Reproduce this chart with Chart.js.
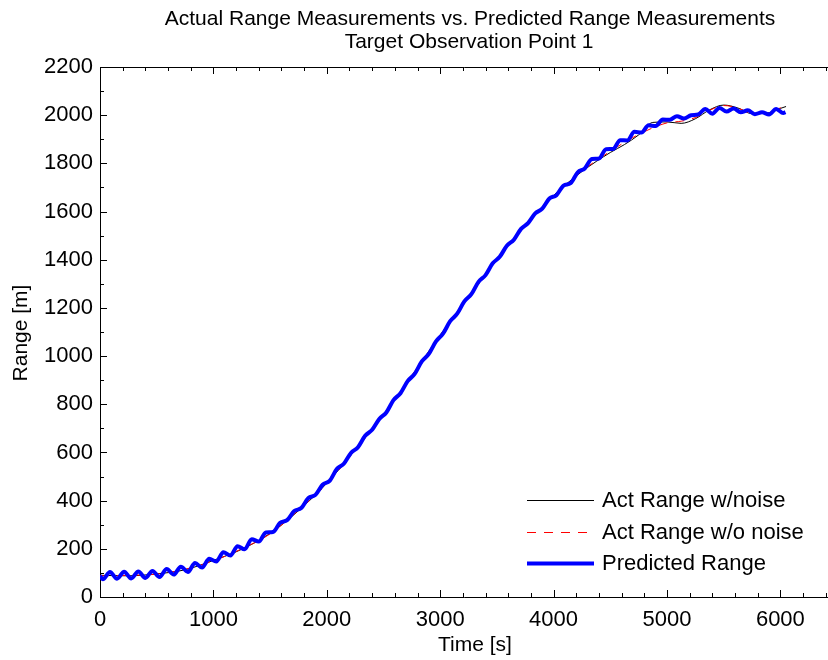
<!DOCTYPE html>
<html>
<head>
<meta charset="utf-8">
<script src="https://cdn.jsdelivr.net/npm/chart.js@4.4.0/dist/chart.umd.min.js"></script>
<style>
  html, body { margin: 0; padding: 0; background: #fff; }
</style>
</head>
<body>
<canvas id="rango" width="828" height="660"></canvas>
<script>
// datos
var xTickVals = [0, 1000, 2000, 3000, 4000, 5000, 6000];
var yTickVals = [0, 200, 400, 600, 800, 1000, 1200, 1400, 1600, 1800, 2000, 2200];

var actTimes = [0, 250, 500, 750, 1000, 1250, 1500, 1750, 2000, 2250, 2500, 2750, 3000, 3250, 3500, 3750,
    4000, 4250, 4500, 4625, 4750, 4875, 5000, 5125, 5250, 5375, 5500, 5625, 5750, 5875, 6000, 6050];
var actNoise = [90, 88, 96, 113, 152, 198, 264, 358, 472, 610, 757, 918, 1088, 1243, 1402, 1543,
    1667, 1766, 1845, 1878, 1918, 1970, 1972, 1966, 1985, 2022, 2042, 2030, 2006, 2008, 2028, 2036];

var trueTimes = [0, 250, 500, 750, 1000, 1250, 1500, 1750, 2000, 2250, 2500, 2750, 3000, 3250, 3500, 3750,
    4000, 4250, 4500, 4750, 5000, 5125, 5250, 5375, 5500, 5625, 5750, 5875, 6000, 6050];
var actTrue = [88, 90, 95, 115, 150, 200, 262, 360, 470, 610, 755, 920, 1085, 1245, 1400, 1545,
    1665, 1768, 1850, 1920, 1968, 1975, 1990, 2020, 2040, 2030, 2008, 2010, 2030, 2038];

var predTimes = [0, 25, 88, 150, 213, 275, 338, 400, 463, 525, 588, 650, 713, 775, 838, 900, 963,
    1025, 1088, 1150, 1213, 1275, 1338, 1400, 1463, 1525, 1588, 1650, 1713, 1775, 1838, 1900, 1963,
    2025, 2088, 2150, 2213, 2275, 2338, 2400, 2463, 2525, 2588, 2650, 2713, 2775, 2838, 2900, 2963,
    3025, 3088, 3150, 3213, 3275, 3338, 3400, 3463, 3525, 3588, 3650, 3713, 3775, 3838, 3900, 3963,
    4025, 4088, 4150, 4213, 4275, 4338, 4400, 4463, 4525, 4588, 4650, 4713, 4775, 4838, 4900, 4963,
    5025, 5088, 5150, 5213, 5275, 5338, 5400, 5463, 5525, 5588, 5650, 5713, 5775, 5838, 5900, 5963,
    6025, 6045];
var predRange = [88, 74, 104, 76, 105, 77, 106, 79, 108, 83, 116, 93, 126, 104, 141, 122, 159,
    147, 186, 172, 211, 198, 240, 230, 268, 270, 308, 319, 357, 369, 411, 424, 466,
    482, 531, 553, 598, 622, 669, 694, 739, 766, 817, 846, 896, 926, 978, 1009, 1061,
    1093, 1145, 1176, 1227, 1257, 1308, 1336, 1385, 1412, 1458, 1483, 1528, 1552, 1592, 1612, 1654,
    1668, 1708, 1718, 1763, 1779, 1818, 1820, 1859, 1860, 1896, 1895, 1931, 1928, 1958, 1955, 1982,
    1981, 1996, 1986, 2000, 2003, 2026, 2006, 2030, 2015, 2028, 2012, 2020, 2004, 2012, 2003, 2026,
    2009, 2013];

var xMax = 6420;
var yMax = 2200;
var fuente = "'Liberation Sans', Arial, Helvetica, sans-serif";

function puntos(ts, vs) {
    return ts.map(function (t, i) { return { x: t, y: vs[i] }; });
}

// ejes estilo matlab: caja, ticks hacia adentro, titulos, leyenda
var estiloMatlab = {
    id: 'estiloMatlab',
    beforeDatasetsDraw: function (chart) {
        var ctx = chart.ctx, a = chart.chartArea;
        var sx = chart.scales.x, sy = chart.scales.y;
        ctx.save();
        ctx.strokeStyle = '#000';
        ctx.lineWidth = 1;
        ctx.beginPath();
        ctx.moveTo(a.left + 0.5, a.top + 0.5);
        ctx.lineTo(a.left + 0.5, a.bottom + 0.5);
        ctx.lineTo(a.right, a.bottom + 0.5);
        ctx.moveTo(a.left + 0.5, a.top + 0.5);
        ctx.lineTo(a.right, a.top + 0.5);
        for (var v = 0; v <= xMax; v += 200) {
            var px = Math.round(sx.getPixelForValue(v)) + 0.5;
            var len = (v % 1000 === 0) ? 7 : 4;
            ctx.moveTo(px, a.bottom);
            ctx.lineTo(px, a.bottom - len);
            ctx.moveTo(px, a.top);
            ctx.lineTo(px, a.top + len);
        }
        for (var w = 0; w <= yMax; w += 100) {
            var py = Math.round(sy.getPixelForValue(w)) + 0.5;
            var l2 = (w % 200 === 0) ? 7 : 4;
            ctx.moveTo(a.left, py);
            ctx.lineTo(a.left + l2, py);
        }
        ctx.stroke();
        ctx.restore();
    },
    afterDraw: function (chart) {
        var ctx = chart.ctx;
        ctx.save();
        ctx.fillStyle = '#000';
        ctx.font = '21px ' + fuente;
        ctx.textAlign = 'center';
        ctx.textBaseline = 'middle';
        ctx.fillText('Actual Range Measurements vs. Predicted Range Measurements', 470, 19);
        ctx.fillText('Target Observation Point 1', 469, 42);
        ctx.fillText('Time [s]', 475, 645);
        ctx.save();
        ctx.translate(21, 333);
        ctx.rotate(-Math.PI / 2);
        ctx.fillText('Range [m]', 0, 0);
        ctx.restore();

        // leyenda
        var filas = [
            { txt: 'Act Range w/noise', color: '#000000', ancho: 1, dash: [] },
            { txt: 'Act Range w/o noise', color: '#ff0000', ancho: 1, dash: [9, 8] },
            { txt: 'Predicted Range', color: '#0000ff', ancho: 4, dash: [] }
        ];
        var ys = [500, 532, 563];
        ctx.font = '22px ' + fuente;
        ctx.textAlign = 'left';
        filas.forEach(function (f, i) {
            ctx.beginPath();
            ctx.strokeStyle = f.color;
            ctx.lineWidth = f.ancho;
            ctx.setLineDash(f.dash);
            ctx.moveTo(527, ys[i] + 0.5);
            ctx.lineTo(594, ys[i] + 0.5);
            ctx.stroke();
            ctx.setLineDash([]);
            ctx.fillText(f.txt, 602, ys[i] + 1);
        });
        ctx.restore();
    }
};

var config = {
    type: 'line',
    data: {
        datasets: [{
            label: 'Act Range w/noise',
            data: puntos(actTimes, actNoise),
            borderColor: '#000000',
            borderWidth: 1,
            pointRadius: 0,
            cubicInterpolationMode: 'monotone',
            order: 3
        }, {
            label: 'Act Range w/o noise',
            data: puntos(trueTimes, actTrue),
            borderColor: '#ff0000',
            borderWidth: 1,
            borderDash: [9, 8],
            pointRadius: 0,
            cubicInterpolationMode: 'monotone',
            order: 2
        }, {
            label: 'Predicted Range',
            data: puntos(predTimes, predRange),
            borderColor: '#0000ff',
            borderWidth: 4,
            pointRadius: 0,
            cubicInterpolationMode: 'monotone',
            order: 1
        }]
    },
    options: {
        responsive: false,
        animation: false,
        layout: { padding: { top: 67, right: 0, bottom: 0, left: 0 } },
        plugins: {
            legend: { display: false },
            title: { display: false },
            tooltip: { enabled: false }
        },
        scales: {
            x: {
                type: 'linear',
                min: 0,
                max: xMax,
                grid: { display: false, drawTicks: false },
                border: { display: false },
                afterBuildTicks: function (s) {
                    s.ticks = xTickVals.map(function (v) { return { value: v }; });
                },
                ticks: {
                    autoSkip: false,
                    maxRotation: 0,
                    padding: 10,
                    color: '#000',
                    font: { family: fuente, size: 22 },
                    callback: function (v) { return String(v); }
                },
                afterFit: function (s) { s.height = 63; }
            },
            y: {
                min: 0,
                max: yMax,
                grid: { display: false, drawTicks: false },
                border: { display: false },
                afterBuildTicks: function (s) {
                    s.ticks = yTickVals.map(function (v) { return { value: v }; });
                },
                ticks: {
                    autoSkip: false,
                    padding: 7,
                    color: '#000',
                    font: { family: fuente, size: 22 },
                    callback: function (v) { return String(v); }
                },
                afterFit: function (s) { s.width = 100; }
            }
        }
    },
    plugins: [estiloMatlab]
};

window.onload = function () {
    var ctx = document.getElementById('rango').getContext('2d');
    window.graficoRango = new Chart(ctx, config);
};
</script>
</body>
</html>
